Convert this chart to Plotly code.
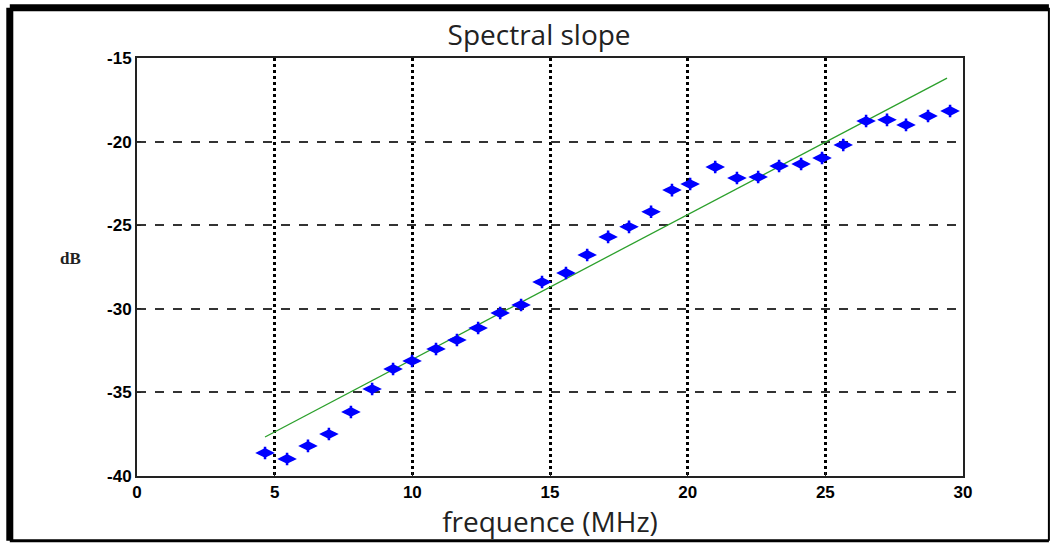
import plotly.graph_objects as go

freq = [4.65, 5.45, 6.21, 6.97, 7.77, 8.54, 9.30, 9.99, 10.86, 11.62, 12.39, 13.19,
        13.95, 14.71, 15.58, 16.35, 17.11, 17.87, 18.67, 19.43, 20.09, 21.0, 21.79,
        22.56, 23.32, 24.12, 24.88, 25.65, 26.48, 27.24, 27.93, 28.73, 29.53]
db = [-38.62, -38.98, -38.2, -37.49, -36.17, -34.8, -33.6, -33.12, -32.4, -31.87,
      -31.15, -30.25, -29.77, -28.4, -27.86, -26.78, -25.7, -25.1, -24.2, -22.9,
      -22.54, -21.52, -22.18, -22.12, -21.46, -21.34, -20.98, -20.2, -18.77, -18.7,
      -19.0, -18.47, -18.17]
fit_x = [4.65, 29.42]
fit_y = [-37.67, -16.2]
xticks = [0, 5, 10, 15, 20, 25, 30]
yticks = [-40, -35, -30, -25, -20, -15]

fig = go.Figure()
fig.add_trace(go.Scatter(x=fit_x, y=fit_y, mode="lines",
                         line=dict(color="#2ca02c", width=1.3), showlegend=False))
fig.add_trace(go.Scatter(x=freq, y=db, mode="markers",
                         marker=dict(symbol="diamond-wide", size=14, color="#0000ff",
                                     line=dict(width=0)), showlegend=False))
fig.add_trace(go.Scatter(x=freq, y=db, mode="markers",
                         marker=dict(symbol="cross-thin", size=9, color="#0000ff",
                                     line=dict(width=2.5, color="#0000ff")), showlegend=False))

fig.update_layout(
    width=1057, height=545,
    margin=dict(l=137, r=94, t=58, b=69),
    paper_bgcolor="white", plot_bgcolor="white",
    title=dict(text="Spectral slope", x=0.51, xanchor="center", y=0.935, yanchor="middle",
               font=dict(family="Open Sans", size=28, color="#222")),
    font=dict(family="Liberation Sans", color="black"),
)
fig.update_xaxes(range=[0, 30], tickvals=xticks, ticktext=[str(v) for v in xticks],
                 showgrid=True, gridcolor="black", griddash="dot", gridwidth=3,
                 showline=True, linecolor="#222", linewidth=2, mirror=True,
                 ticks="inside", ticklen=4, tickcolor="#222",
                 tickfont=dict(family="Liberation Sans", size=17, color="black", weight="bold"),
                 zeroline=False,
                 title=dict(text="frequence (MHz)", standoff=4,
                            font=dict(family="Open Sans", size=28, color="#222")))
fig.update_yaxes(range=[-40, -15], tickvals=yticks, ticktext=[str(v) for v in yticks],
                 showgrid=True, gridcolor="#333", griddash="dash", gridwidth=2,
                 showline=True, linecolor="#222", linewidth=2, mirror=True,
                 ticks="inside", ticklen=4, tickcolor="#222",
                 tickfont=dict(family="Liberation Sans", size=17, color="black", weight="bold"),
                 zeroline=False)

fig.add_annotation(text="<b>dB</b>", xref="paper", yref="paper", x=-0.08, y=0.52,
                   xanchor="center", yanchor="middle",
                   showarrow=False, font=dict(family="Liberation Serif", size=17, color="#222"))

# outer frame (paper coords: plot area spans px 137..963, 58..476)
L, R, B, T = -0.154, 1.104, -0.155, 1.12
fig.add_shape(type="line", xref="paper", yref="paper", x0=L, x1=L, y0=B, y1=T,
              line=dict(color="black", width=7))
fig.add_shape(type="line", xref="paper", yref="paper", x0=L, x1=R, y0=T, y1=T,
              line=dict(color="black", width=7))
fig.add_shape(type="line", xref="paper", yref="paper", x0=R, x1=R, y0=B, y1=T,
              line=dict(color="black", width=2))
fig.add_shape(type="line", xref="paper", yref="paper", x0=L, x1=R, y0=B, y1=B,
              line=dict(color="black", width=3))

fig.write_html("out.html")
